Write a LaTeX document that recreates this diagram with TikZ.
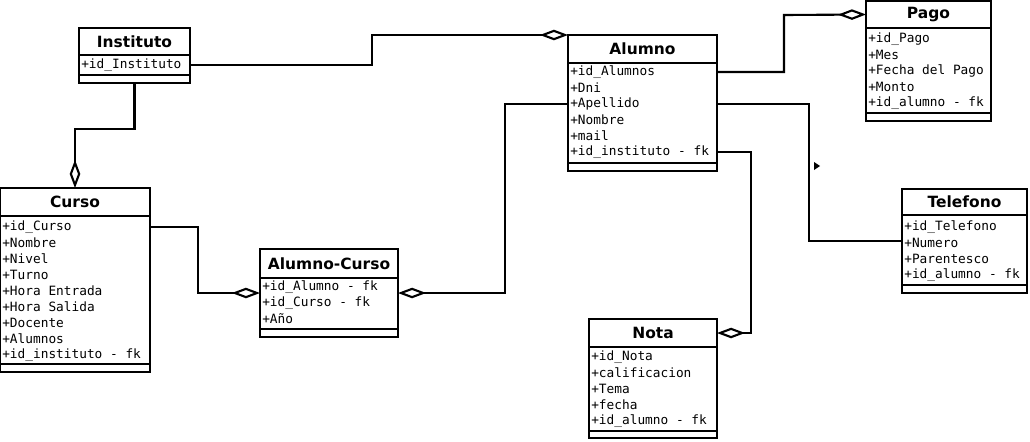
\documentclass[tikz,border=0pt]{standalone}
\usepackage{fontspec}
\setmainfont{DejaVu Sans}
\newfontfamily\monofont{DejaVu Sans Mono}
\usetikzlibrary{arrows.meta,fit}
\tikzset{>=stealth}
\tikzset{
  classbox/.style={draw,line width=1.5pt,inner sep=0pt,outer sep=0pt},
  classname/.style={font=\fontsize{11}{13}\selectfont\bfseries},
  attr/.style={anchor=west,inner sep=0pt,font=\monofont\fontsize{9.1}{11}\selectfont},
  link/.style={line width=1.5pt},
  aggr/.style={line width=1.5pt,-{Diamond[open,length=20pt,width=7.5pt]}}
}

\begin{document}
\begin{tikzpicture}[x=0.025cm,y=-0.025cm]
\useasboundingbox (0,0) rectangle (1030,441);

% Instituto
\node[classbox,fit={(79,28)(190,83)}] (instituto) {};
\draw[link] (79,55) -- (190,55) (79,75) -- (190,75);
\node[classname] (institutoT) at (134.5,41.5) {Instituto};
\node[attr] (ins1) at (81,65) {+id\_Instituto};

% Curso
\node[classbox,fit={(0,188)(150,372)}] (curso) {};
\draw[link] (0,216) -- (150,216) (0,364) -- (150,364);
\node[classname] (cursoT) at (75,202) {Curso};
\node[attr] (cur1) at (2,227) {+id\_Curso};
\node[attr] (cur2) at (2,243) {+Nombre};
\node[attr] (cur3) at (2,259) {+Nivel};
\node[attr] (cur4) at (2,275) {+Turno};
\node[attr] (cur5) at (2,291) {+Hora Entrada};
\node[attr] (cur6) at (2,307) {+Hora Salida};
\node[attr] (cur7) at (2,323) {+Docente};
\node[attr] (cur8) at (2,339) {+Alumnos};
\node[attr] (cur9) at (2,355) {+id\_instituto - fk};

% Alumno-Curso
\node[classbox,fit={(260,249)(398,337)}] (alucur) {};
\draw[link] (260,278) -- (398,278) (260,329) -- (398,329);
\node[classname] (alucurT) at (329,263.5) {Alumno-Curso};
\node[attr] (ac1) at (262,287) {+id\_Alumno - fk};
\node[attr] (ac2) at (262,303) {+id\_Curso - fk};
\node[attr] (ac3) at (262,319) {+Año};

% Alumno
\node[classbox,fit={(568,35)(717,171)}] (alumno) {};
\draw[link] (568,63) -- (717,63) (568,163) -- (717,163);
\node[classname] (alumnoT) at (642.5,49) {Alumno};
\node[attr] (alu1) at (570,72) {+id\_Alumnos};
\node[attr] (alu2) at (570,88) {+Dni};
\node[attr] (alu3) at (570,104) {+Apellido};
\node[attr] (alu4) at (570,120) {+Nombre};
\node[attr] (alu5) at (570,136) {+mail};
\node[attr] (alu6) at (570,152) {+id\_instituto - fk};

% Pago
\node[classbox,fit={(866,1)(991,121)}] (pago) {};
\draw[link] (866,28) -- (991,28) (866,113) -- (991,113);
\node[classname] (pagoT) at (928.5,14.5) {Pago};
\node[attr] (pag1) at (868,39) {+id\_Pago};
\node[attr] (pag2) at (868,55) {+Mes};
\node[attr] (pag3) at (868,71) {+Fecha del Pago};
\node[attr] (pag4) at (868,87) {+Monto};
\node[attr] (pag5) at (868,103) {+id\_alumno - fk};

% Telefono
\node[classbox,fit={(902,189)(1027,293)}] (tel) {};
\draw[link] (902,215) -- (1027,215) (902,285) -- (1027,285);
\node[classname] (telT) at (964.5,202) {Telefono};
\node[attr] (tel1) at (904,227) {+id\_Telefono};
\node[attr] (tel2) at (904,243) {+Numero};
\node[attr] (tel3) at (904,259) {+Parentesco};
\node[attr] (tel4) at (904,275) {+id\_alumno - fk};

% Nota
\node[classbox,fit={(589,319)(717,438)}] (nota) {};
\draw[link] (589,347) -- (717,347) (589,431) -- (717,431);
\node[classname] (notaT) at (653,333) {Nota};
\node[attr] (not1) at (591,357) {+id\_Nota};
\node[attr] (not2) at (591,373) {+calificacion};
\node[attr] (not3) at (591,389) {+Tema};
\node[attr] (not4) at (591,405) {+fecha};
\node[attr] (not5) at (591,421) {+id\_alumno - fk};

% relaciones
\coordinate (j1) at (372,0);
\draw[aggr] (instituto.east |- ins1) -| (j1 |- alumno.north west) -- (alumno.north west);
\draw[aggr] (instituto.south) |- (75,129) -- (curso.north);
\draw[aggr] (curso.east |- cur1) -| (198,293) -- (alucur.west);
\draw[aggr] (alumno.west |- alu3) -| (505,293) -- (alucur.east);
\draw[aggr] (alumno.east |- alu1) -| (784,15) -- (pago.west |- pagoT);
\draw[link] (alumno.east |- alu3) -| (809,241) -- (tel.west);
\draw[aggr] (alumno.east |- alu6) -| (751,333) -- (nota.east |- notaT);
\fill (814,162) -- (820,166) -- (814,170) -- cycle;
\end{tikzpicture}
\end{document}
